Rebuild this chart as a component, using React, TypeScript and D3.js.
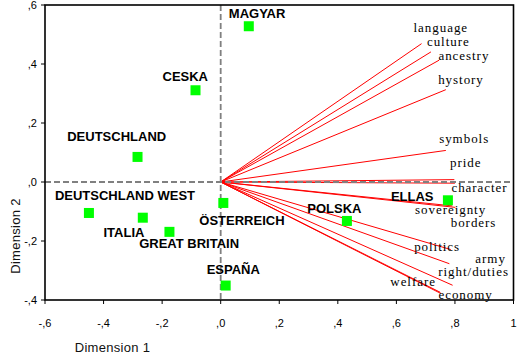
import React from "react";
import * as d3 from "d3";

// ---- data ----
const countries = ["MAGYAR", "CESKA", "DEUTSCHLAND", "DEUTSCHLAND WEST", "ITALIA", "GREAT BRITAIN", "ÖSTERREICH", "ESPAÑA", "POLSKA", "ELLAS"];
const countryDim1 = [0.096, -0.086, -0.284, -0.45, -0.266, -0.175, 0.009, 0.017, 0.431, 0.776];
const countryDim2 = [0.528, 0.311, 0.085, -0.105, -0.121, -0.169, -0.071, -0.351, -0.132, -0.062];

const items = ["language", "culture", "ancestry", "hystory", "symbols", "pride", "character", "sovereignty", "borders", "politics", "army", "right/duties", "welfare", "economy"];
const itemDim1 = [0.686, 0.718, 0.746, 0.769, 0.769, 0.798, 0.80, 0.791, 0.801, 0.786, 0.781, 0.792, 0.750, 0.752];
const itemDim2 = [0.469, 0.441, 0.413, 0.313, 0.107, 0.008, -0.004, -0.081, -0.086, -0.229, -0.277, -0.350, -0.374, -0.378];

const xTicks = [-0.6, -0.4, -0.2, 0, 0.2, 0.4, 0.6, 0.8, 1];
const xTickLabels = ["-,6", "-,4", "-,2", ",0", ",2", ",4", ",6", ",8", "1"];
const yTicks = [-0.4, -0.2, 0, 0.2, 0.4, 0.6];
const yTickLabels = ["-,4", "-,2", ",0", ",2", ",4", ",6"];

// ---- label placement (pixel offsets from marks) ----
const countryLabelOffsets: [number, number][] = [
  [-20, -8.5], [-33, -9], [-70.3, -16], [-34, -12.7], [-39.3, 19.4],
  [-30.3, 16.6], [-24, 21.6], [-19, -11.3], [-39.6, -8.4], [-57, 0.7],
];
const itemLabelOffsets: [number, number][] = [
  [-8, -11.5], [-4, -6], [-0.7, 0.2], [-7.7, -6], [-6.7, -7.5], [-4.3, -12.6],
  [-3.5, 9], [-37.3, 7.8], [-4.5, 19.5], [-36.7, 1.7], [26, -1.2], [-14.3, -9], [-50, -6], [-2.4, 5.6],
];

const W = 519;
const H = 358;
const L = 45, R = 513.5, T = 5, B = 300;

export default function App() {
  const x = d3.scaleLinear().domain([-0.6, 1]).range([L, R]);
  const y = d3.scaleLinear().domain([-0.4, 0.6]).range([B, T]);
  const sans = "'Liberation Sans', Arial, sans-serif";
  const serif = "'Liberation Serif', 'Times New Roman', serif";
  const sq = 10;

  return (
    <svg width={W} height={H} style={{ position: "absolute", left: 0, top: 0, background: "#fff" }}>
      <rect x={0} y={0} width={W} height={H} fill="#fff" />
      {/* vectors */}
      {items.map((n, i) => (
        <line key={"v" + n} x1={x(0)} y1={y(0)} x2={x(itemDim1[i])} y2={y(itemDim2[i])} stroke="#ff0000" strokeWidth={1} />
      ))}
      {/* dashed reference lines */}
      <line x1={x(0)} x2={x(0)} y1={T} y2={B} stroke="#808080" strokeWidth={1.8} strokeDasharray="6,3" />
      <line x1={L} x2={R} y1={y(0)} y2={y(0)} stroke="#808080" strokeWidth={1.8} strokeDasharray="6,3" />
      {/* frame */}
      <rect x={L} y={T} width={R - L} height={B - T} fill="none" stroke="#000" strokeWidth={1.6} />
      {/* ticks */}
      {xTicks.map((t, i) => (
        <g key={"xt" + i}>
          <line x1={x(t)} x2={x(t)} y1={B} y2={B + 4} stroke="#000" strokeWidth={1} />
          <text x={x(t)} y={327} textAnchor="middle" fontFamily={sans} fontSize={11} fill="#000">{xTickLabels[i]}</text>
        </g>
      ))}
      {yTicks.map((t, i) => (
        <g key={"yt" + i}>
          <line x1={L - 4} x2={L} y1={y(t)} y2={y(t)} stroke="#000" strokeWidth={1} />
          <text x={37} y={y(t) + 4} textAnchor="end" fontFamily={sans} fontSize={11} fill="#000">{yTickLabels[i]}</text>
        </g>
      ))}
      {/* axis titles */}
      <text x={74.7} y={351.5} fontFamily={sans} fontSize={13} letterSpacing={0.3} fill="#111">Dimension 1</text>
      <text transform="translate(19.5,236) rotate(-90)" textAnchor="middle" fontFamily={sans} fontSize={13} letterSpacing={0.3} fill="#111">Dimension 2</text>
      {/* item labels */}
      {items.map((n, i) => (
        <text key={"il" + n} x={x(itemDim1[i]) + itemLabelOffsets[i][0]} y={y(itemDim2[i]) + itemLabelOffsets[i][1]}
          fontFamily={serif} fontSize={13} letterSpacing={0.95} fill="#000">{n}</text>
      ))}
      {/* country points */}
      {countries.map((n, i) => (
        <rect key={"p" + n} x={x(countryDim1[i]) - sq / 2} y={y(countryDim2[i]) - sq / 2} width={sq} height={sq} fill="#00ff00" />
      ))}
      {countries.map((n, i) => (
        <text key={"cl" + n} x={x(countryDim1[i]) + countryLabelOffsets[i][0]} y={y(countryDim2[i]) + countryLabelOffsets[i][1]}
          fontFamily={sans} fontWeight="bold" fontSize={13} fill="#000">{n}</text>
      ))}
    </svg>
  );
}
